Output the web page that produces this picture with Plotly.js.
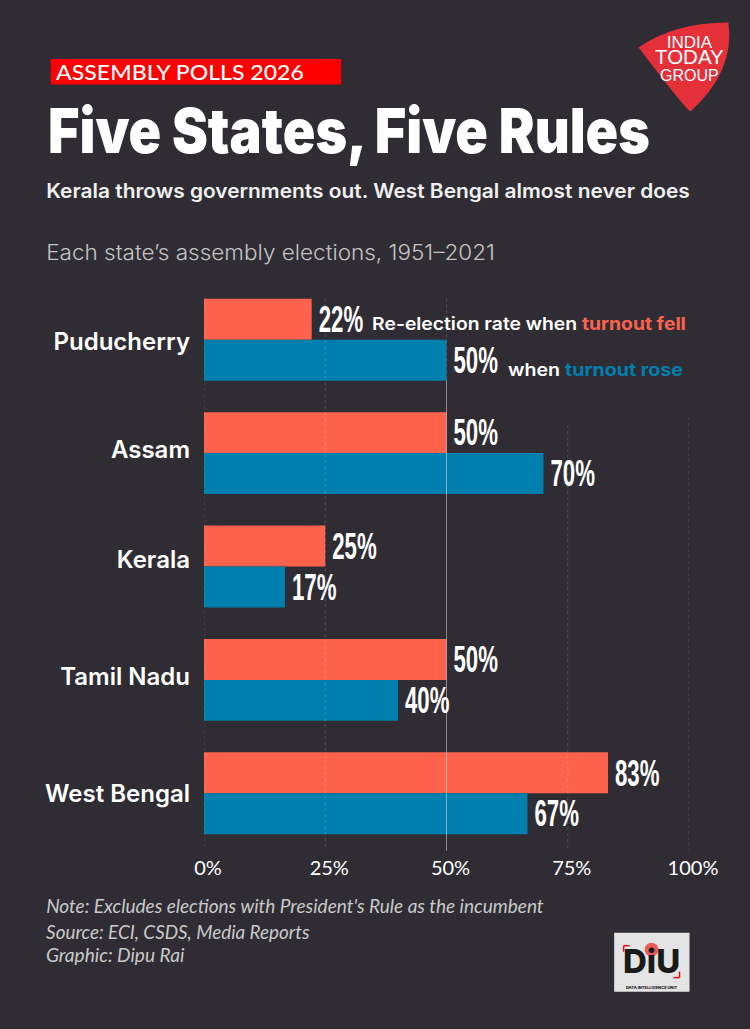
<!DOCTYPE html>
<html><head><meta charset="utf-8">
<script src="https://cdn.plot.ly/plotly-3.0.1.min.js"></script>
<style>html,body{margin:0;padding:0;background:#2f2d33}</style></head>
<body><div id="chart" style="width:750px;height:1029px"></div>
<script>
const states = ["Puducherry","Assam","Kerala","Tamil Nadu","West Bengal"];
const turnoutFell = [22.2,50,25,50,83.3];
const turnoutRose = [50,70,16.7,40,66.7];
const xTicks = [0,25,50,75,100];
const xTickLabels = ["0%","25%","50%","75%","100%"];
const BG="#2f2d33", RED="#fd634c", BLUE="#017fae";
const L=203.5,R=689.5,T=282.75,B=850.25;
const px=x=>(x-L)/(R-L), py=y=>(B-y)/(B-T);
const idx=states.map((_,i)=>i);
const labelNudge=[0.018,-0.035,-0.06,-0.026,0];
const sans="Inter, 'Open Sans', sans-serif";
const lato="Lato, sans-serif";
const numeric="'Liberation Sans', sans-serif";
const note=(x,y,text,family,size,color,weight,opt={})=>Object.assign({xref:'paper',yref:'paper',x:px(x),y:py(y),text,showarrow:false,xanchor:'left',yanchor:'middle',font:{family,size,color,weight}},opt);
const grid=(v,top,bottom,alpha,dash)=>({type:'line',xref:'x',yref:'paper',x0:v,x1:v,y0:py(top),y1:py(bottom),layer:'above',line:{color:`rgba(255,255,255,${alpha})`,width:1,dash}});
const box=(x0,y0,x1,y1,fill)=>({type:'rect',xref:'paper',yref:'paper',x0:px(x0),x1:px(x1),y0:py(y0),y1:py(y1),fillcolor:fill,line:{width:0},layer:'below'});
const seg=(x0,y0,x1,y1,c,w)=>({type:'line',xref:'paper',yref:'paper',x0:px(x0),x1:px(x1),y0:py(y0),y1:py(y1),line:{color:c,width:w},layer:'above'});
const barTrace=(name,vals,color)=>({type:'bar',orientation:'h',name,y:idx,x:vals,marker:{color,line:{width:0}},
  text:vals.map(v=>Math.round(v)+'%'),textposition:'outside',cliponaxis:false,textfont:{family:numeric,size:38,color:'#fff',weight:700},hoverinfo:'skip'});
const P=(x,y)=>px(x).toFixed(4)+','+py(y).toFixed(4);
const shield=`M${P(639,47)} Q${P(675,22)} ${P(729,22)} Q${P(736,70)} ${P(691,111)} Q${P(687,110)} ${P(639,47)} Z`;
const fits=[["ASSEMBLY",56,248],["Five States",48,602],["Kerala throws",46,644],["Each state",46,449],["Re-election",372,314],["when turnout",508,175],["Note:",46,498],["Source:",46,264],["Graphic:",46,139]];
const layout={
  width:750,height:1029,showlegend:false,paper_bgcolor:BG,plot_bgcolor:BG,
  margin:{l:L,r:750-R,t:T,b:1029-B,pad:0},
  barmode:'group',bargap:0.278,bargroupgap:0,
  xaxis:{range:[0,100],tickmode:'array',tickvals:xTicks,ticktext:xTickLabels,showgrid:false,zeroline:false,showline:false,ticks:'',
    ticklabelshift:4,ticklabelstandoff:4,tickfont:{family:lato,size:20,color:'#ffffff',weight:400}},
  yaxis:{range:[4.5,-0.5],tickmode:'array',tickvals:idx.map(i=>i+labelNudge[i]),ticktext:states,showgrid:false,zeroline:false,showline:false,ticks:'',
    ticklabelstandoff:13,tickfont:{family:sans,size:24,color:'#fff',weight:600}},
  shapes:[
    box(50,58.5,341,84,'#fe0000'),
    {type:'path',xref:'paper',yref:'paper',path:shield,fillcolor:'#e5303a',line:{width:0},layer:'below'},
    box(614.5,933,690,992,'#e4e4e4'),
    {type:'circle',xref:'paper',yref:'paper',x0:px(645),x1:px(659),y0:py(943),y1:py(957),fillcolor:'#ea5a5a',line:{width:0},layer:'below'},
    seg(624,946,630,946,'#e01010',1.5),seg(624,946,624,952,'#e01010',1.5),
    seg(680,978,674,978,'#e01010',1.5),seg(680,978,680,972,'#e01010',1.5),
    grid(0,298,851,0.16,'dot'),grid(25,298,851,0.16,'dot'),grid(50,298,380,0.16,'dot'),grid(50,380,851,0.45,'solid'),grid(75,425,851,0.16,'dot'),grid(100,417,851,0.16,'dot')
  ],
  annotations:[
    note(56,71.5,"ASSEMBLY POLLS 2026",lato,20.5,'#fff',500),
    note(48,130,"Five States, Five Rules",sans,62,'#fff',900),
    note(46,191,"Kerala throws governments out. West Bengal almost never does",sans,19.5,'#f0f0f0',600),
    note(46,252,"Each state’s assembly elections, 1951–2021",sans,21,'#c4c4c4',300),
    note(372,323,`Re-election rate when <span style="color:${RED}"><b>turnout fell</b></span>`,sans,17.5,'#fff',600),
    note(508,369,`when <span style="color:${BLUE}"><b>turnout rose</b></span>`,sans,17.5,'#fff',600),
    note(46,906,"Note: Excludes elections with President's Rule as the incumbent",lato,19,'#c9c9c9',400,{font:{family:lato,size:19,color:'#c9c9c9',style:'italic'}}),
    note(46,932,"Source: ECI, CSDS, Media Reports",lato,19,'#c9c9c9',400,{font:{family:lato,size:19,color:'#c9c9c9',style:'italic'}}),
    note(46,955,"Graphic: Dipu Rai",lato,19,'#c9c9c9',400,{font:{family:lato,size:19,color:'#c9c9c9',style:'italic'}}),
    note(690,58,'<span style="font-size:17px">INDIA</span><br><span style="font-size:20.5px">TODAY</span><br><span style="font-size:16px">GROUP</span>',numeric,12.5,'#fff',400,{xanchor:'center'}),
    note(652,966,'<span style="font-size:33px">DiU</span><br><span style="font-size:4px">DATA INTELLIGENCE UNIT</span>',sans,12.5,'#1a1a1a',800,{xanchor:'center'})
  ]
};
function squeeze(el,target,s){
  const r=el.getBoundingClientRect(), ox=el.parentNode.getScreenCTM().e, old=el.getAttribute('transform')||'';
  const k=s||1;
  el.setAttribute('transform',`translate(${target-ox},0) scale(${k},1) translate(${-(r.left-ox)},0) ${old}`);
}
Plotly.newPlot('chart',[barTrace('Re-election rate when turnout fell',turnoutFell,RED),barTrace('when turnout rose',turnoutRose,BLUE)],layout,{displayModeBar:false,staticPlot:true}).then(gd=>{
  gd.querySelectorAll('.bars .point').forEach(p=>{
    const t=p.querySelector('text'), b=p.querySelector('path');
    if(t&&b) squeeze(t,b.getBoundingClientRect().right+7,0.6);
  });
  gd.querySelectorAll('.annotation text').forEach(t=>{
    const f=fits.find(a=>t.textContent.startsWith(a[0]));
    if(f) squeeze(t,f[1],f[2]/t.getBoundingClientRect().width);
  });
});
</script></body></html>
